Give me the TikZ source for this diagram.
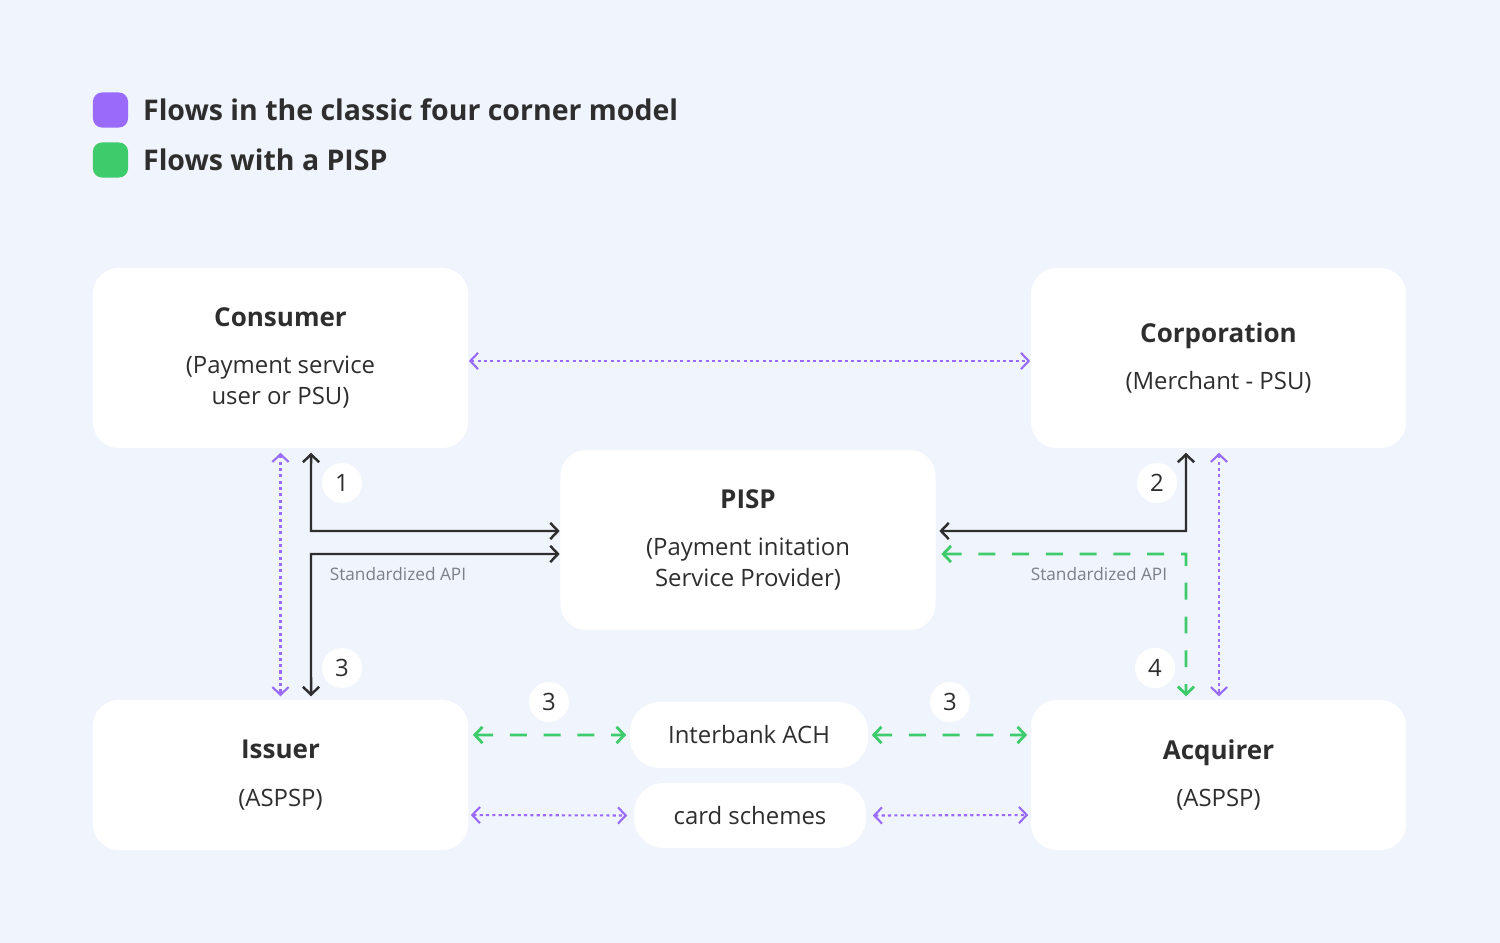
\documentclass[tikz,border=0pt]{standalone}
\usepackage{fontspec}
\setmainfont{Open Sans}
\usetikzlibrary{arrows.meta,positioning}
\definecolor{bgblue}{HTML}{EFF4FD}
\definecolor{flowpurple}{HTML}{9A6BFA}
\definecolor{flowgreen}{HTML}{3DCB6C}
\definecolor{textdark}{HTML}{2E2E2E}
\definecolor{apigray}{HTML}{7A7F88}
\begin{document}
\begin{tikzpicture}[x=0.01cm,y=-0.01cm,
    >={Straight Barb[length=2.2pt,width=4.6pt]},
    box/.style={fill=white, rounded corners=0.26cm, align=center, text=textdark, font=\fontsize{6.8}{8.8}\selectfont},
    pill/.style={fill=white, rounded corners=0.3cm, text=textdark, font=\fontsize{6.8}{8.6}\selectfont},
    num/.style={circle, fill=white, minimum size=0.4cm, inner sep=0pt, text=textdark, font=\fontsize{6.8}{8}\selectfont},
    api/.style={text=apigray, font=\fontsize{4.9}{6}\selectfont},
    four/.style={flowpurple, line width=0.6pt, dash pattern=on 0.9pt off 0.9pt, <->},
    pisp/.style={flowgreen, line width=0.8pt, dash pattern=on 4.8pt off 4.8pt, <->},
    std/.style={textdark, line width=0.7pt, <->}]
  \useasboundingbox[fill=bgblue] (0,0) rectangle (1500,943);
  \newcommand{\ttl}[1]{{\bfseries\fontsize{7.4}{8.8}\selectfont #1}\\[4.8pt]}

  % legend
  \node[fill=flowpurple, rounded corners=0.09cm, minimum size=0.35cm, inner sep=0pt] (legA) at (110.5,110) {};
  \node[fill=flowgreen, rounded corners=0.09cm, minimum size=0.35cm, inner sep=0pt] (legB) at (110.5,160) {};
  \node[right=0.02cm of legA, text=textdark, font=\bfseries\fontsize{8.1}{9}\selectfont] {Flows in the classic four corner model};
  \node[right=0.02cm of legB, text=textdark, font=\bfseries\fontsize{8.1}{9}\selectfont] {Flows with a PISP};

  % boxes
  \node[box, minimum width=3.75cm, minimum height=1.8cm] (consumer) at (280.5,358) {\ttl{Consumer}(Payment service\\user or PSU)};
  \node[box, minimum width=3.75cm, minimum height=1.8cm] (corp) at (1218.5,358) {\ttl{Corporation}(Merchant - PSU)};
  \node[box, minimum width=3.75cm, minimum height=1.8cm] (pispbox) at (748,540) {\ttl{PISP}(Payment initation\\Service Provider)};
  \node[box, minimum width=3.75cm, minimum height=1.5cm] (issuer) at (280.5,775) {\ttl{Issuer}(ASPSP)};
  \node[box, minimum width=3.75cm, minimum height=1.5cm] (acquirer) at (1218.5,775) {\ttl{Acquirer}(ASPSP)};
  \node[pill, minimum width=2.38cm, minimum height=0.66cm] (ach) at (749,735) {Interbank ACH};
  \node[pill, minimum width=2.32cm, minimum height=0.65cm] (cards) at (750,815.5) {card schemes};

  % classic four corner flows
  \draw[four] ([yshift=-0.03cm]consumer.east) -- ([yshift=-0.03cm]corp.west);
  \draw[four] ([yshift=-0.04cm]consumer.south) -- ([yshift=0.03cm]issuer.north);
  \draw[four] ([xshift=0.005cm,yshift=-0.04cm]corp.south) -- ([xshift=0.005cm,yshift=0.03cm]acquirer.north);
  \draw[four] ([xshift=0.02cm,yshift=-0.4cm]issuer.east) -- ([xshift=-0.06cm]cards.west);
  \draw[four] ([xshift=0.06cm]cards.east) -- ([xshift=-0.02cm,yshift=-0.4cm]acquirer.west);

  % PISP flows
  \coordinate (ccorner) at (311,531);
  \coordinate (icorner) at (311,554);
  \coordinate (kcorner) at (1186,531);
  \coordinate (gcorner) at (1186,554);
  \draw[std] ([xshift=0.305cm,yshift=-0.04cm]consumer.south) -- (ccorner) -- (pispbox.west |- ccorner);
  \draw[std] (pispbox.west |- icorner) -- (icorner) -- ([xshift=0.305cm,yshift=0.03cm]issuer.north);
  \draw[std] ([xshift=-0.325cm,yshift=-0.04cm]corp.south) -- (kcorner) -- ([xshift=0.03cm]pispbox.east |- kcorner);
  \draw[pisp] ([xshift=0.05cm]pispbox.east |- gcorner) -- (gcorner) -- ([xshift=-0.325cm,yshift=0.03cm]acquirer.north);
  \draw[pisp] ([xshift=0.04cm,yshift=0.4cm]issuer.east) -- ([xshift=-0.03cm]ach.west);
  \draw[pisp] ([xshift=0.03cm]ach.east) -- ([xshift=-0.03cm,yshift=0.4cm]acquirer.west);

  % labels
  \node[api] (apiL) at (398,574) {Standardized API};
  \node[api] (apiR) at (1099,574) {Standardized API};
  \node[num] (n1) at (342,483) {1};
  \node[num] (n3a) at (342,668) {3};
  \node[num] (n2) at (1157,483) {2};
  \node[num] (n4) at (1155,668) {4};
  \node[num] (n3b) at (549,702) {3};
  \node[num] (n3c) at (950,702) {3};
\end{tikzpicture}
\end{document}
